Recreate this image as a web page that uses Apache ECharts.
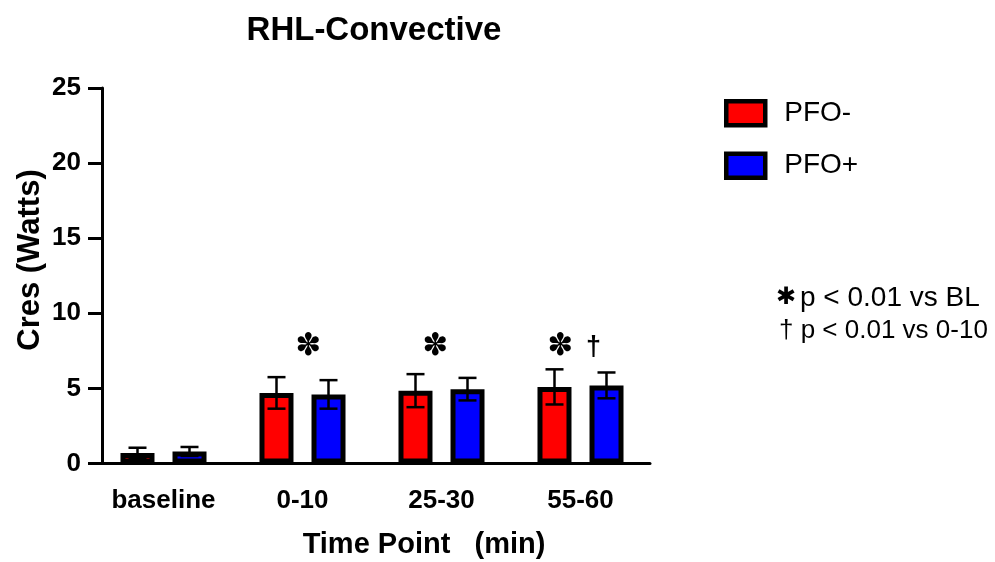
<!DOCTYPE html>
<html>
<head>
<meta charset="utf-8">
<script src="https://cdn.jsdelivr.net/npm/echarts@6/dist/echarts.min.js"></script>
<style>html,body{margin:0;padding:0;background:#fff}#c{width:995px;height:562px}</style>
</head>
<body>
<div id="c"></div>
<script>
const categories = ['baseline', '0-10', '25-30', '55-60'];
const pfoNeg = [0.7, 4.7, 4.85, 5.1];
const pfoNegErr = [0.35, 1.05, 1.1, 1.17];
const pfoPos = [0.8, 4.6, 4.95, 5.2];
const pfoPosErr = [0.3, 0.95, 0.75, 0.86];
const yTicks = [0, 5, 10, 15, 20, 25];
const sigMarks = [null, '✽', '✽', '✽'];
const sigMarks2 = [null, null, null, '†'];

const FONT = '"Liberation Sans", Arial, Helvetica, sans-serif';
const chart = echarts.init(document.getElementById('c'));

const BAR_OFF = 26;

function errSeries(name, vals, errs, off) {
  return {
    type: 'custom',
    name: name + ' err',
    z: 5,
    data: vals.map((v, i) => [i, v, errs[i]]),
    encode: { x: 0, y: 1 },
    renderItem: function (params, api) {
      const i = api.value(0), v = api.value(1), e = api.value(2);
      const top = api.coord([i, v + e]);
      const bot = api.coord([i, v - e]);
      const x = top[0] + off;
      const hw = 9;
      const st = { stroke: '#000', lineWidth: 2.5 };
      return {
        type: 'group',
        children: [
          { type: 'line', shape: { x1: x, y1: top[1], x2: x, y2: bot[1] }, style: st },
          { type: 'line', shape: { x1: x - hw, y1: top[1], x2: x + hw, y2: top[1] }, style: st },
          { type: 'line', shape: { x1: x - hw, y1: bot[1], x2: x + hw, y2: bot[1] }, style: st }
        ]
      };
    },
    tooltip: { show: false }
  };
}

const option = {
  animation: false,
  backgroundColor: '#fff',
  textStyle: { fontFamily: FONT },
  title: {
    text: 'RHL-Convective',
    left: 369, top: 9, textAlign: 'center',
    textStyle: { fontFamily: FONT, fontSize: 33, fontWeight: 'bold', color: '#000' }
  },
  legend: {
    orient: 'vertical',
    left: 724, top: 99,
    padding: 0,
    icon: 'rect',
    itemWidth: 39, itemHeight: 24,
    itemGap: 24,
    data: ['PFO-', 'PFO+'],
    itemStyle: { borderColor: '#000', borderWidth: 4.5 },
    textStyle: { fontFamily: FONT, fontSize: 28, color: '#000', padding: [0, 0, 0, 14] }
  },
  grid: { left: 94, width: 556, top: 88, bottom: 98.5, containLabel: false },
  xAxis: {
    type: 'category',
    data: categories,
    axisLine: { lineStyle: { color: '#000', width: 3 } },
    axisTick: { alignWithLabel: true, length: 11, lineStyle: { color: '#000', width: 3 } },
    axisLabel: { interval: 0, fontFamily: FONT, fontSize: 26, fontWeight: 'bold', color: '#000', margin: 24 }
  },
  yAxis: {
    type: 'value',
    min: yTicks[0], max: yTicks[yTicks.length - 1], interval: 5,
    offset: -8,
    splitLine: { show: false },
    axisLine: { show: true, lineStyle: { color: '#000', width: 3 } },
    axisTick: { show: true, length: 14, lineStyle: { color: '#000', width: 3 } },
    axisLabel: { fontFamily: FONT, fontSize: 26, fontWeight: 'bold', color: '#000', margin: 21 }
  },
  series: [
    {
      name: 'PFO-', type: 'bar', data: pfoNeg, barWidth: 34, barGap: '53%',
      itemStyle: { color: '#ff0000', borderColor: '#000', borderWidth: 5 }
    },
    {
      name: 'PFO+', type: 'bar', data: pfoPos, barWidth: 34,
      itemStyle: { color: '#0000ff', borderColor: '#000', borderWidth: 5 }
    },
    errSeries('PFO-', pfoNeg, pfoNegErr, -BAR_OFF),
    errSeries('PFO+', pfoPos, pfoPosErr, BAR_OFF)
  ]
};
chart.setOption(option);

// annotations placed via the axes
const sigDx = [0, 6, -6, -20];
const graphics = [];
sigMarks.forEach((m, i) => {
  if (!m) return;
  const p = chart.convertToPixel({ gridIndex: 0 }, [i, 7.75]);
  graphics.push({ type: 'text', x: p[0] + sigDx[i], y: p[1], style: { text: m, font: '31px "DejaVu Sans"', fill: '#000', textAlign: 'center', textVerticalAlign: 'middle' } });
});
sigMarks2.forEach((m, i) => {
  if (!m) return;
  const p = chart.convertToPixel({ gridIndex: 0 }, [i, 7.75]);
  graphics.push({ type: 'text', x: p[0] + 13, y: p[1], style: { text: m, font: 'bold 27px ' + FONT, fill: '#000', textAlign: 'center', textVerticalAlign: 'middle' } });
});
graphics.push(
  { type: 'text', x: 30, y: 260, rotation: Math.PI / 2, style: { text: 'Cres (Watts)', font: 'bold 31px ' + FONT, fill: '#000', textAlign: 'center', textVerticalAlign: 'middle' } },
  { type: 'text', x: 424, y: 545, style: { text: 'Time Point   (min)', font: 'bold 29px ' + FONT, fill: '#000', textAlign: 'center', textVerticalAlign: 'middle' } },
  { type: 'text', x: 776, y: 298, style: { text: '✱', font: '24px "DejaVu Sans"', fill: '#000', textAlign: 'left', textVerticalAlign: 'middle' } },
  { type: 'text', x: 800, y: 298, style: { text: 'p < 0.01 vs BL', font: '28px ' + FONT, fill: '#000', textAlign: 'left', textVerticalAlign: 'middle' } },
  { type: 'text', x: 779, y: 331, style: { text: '† p < 0.01 vs 0-10', font: '26px ' + FONT, fill: '#000', textAlign: 'left', textVerticalAlign: 'middle' } }
);
chart.setOption({ graphic: graphics });
</script>
</body>
</html>
